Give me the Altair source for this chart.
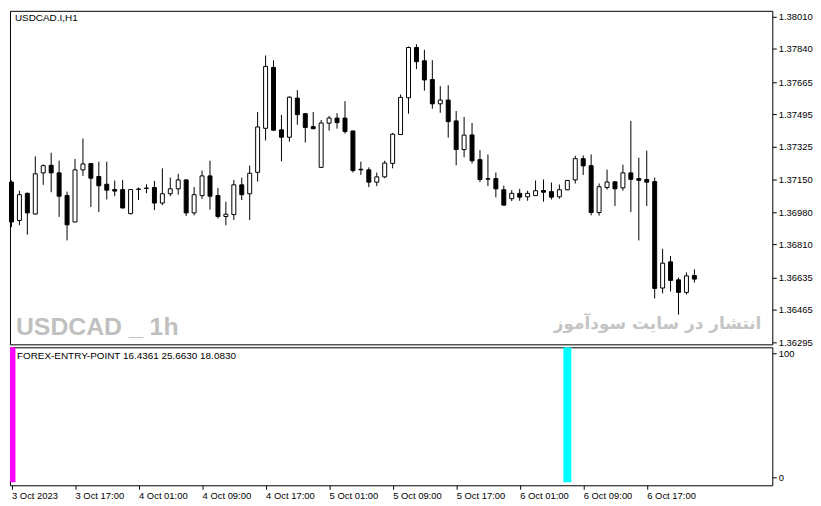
import altair as alt
import pandas as pd

# USDCAD.I H1 candles, 3 Oct 09:00 -> 6 Oct 23:00
opens = [1.37138, 1.36936, 1.37079, 1.36970, 1.37187, 1.37227, 1.37187, 1.37068, 1.36928, 1.37203,
         1.37236, 1.37168, 1.37127, 1.37099, 1.37099, 1.36972, 1.37100, 1.37107, 1.37110, 1.37028,
         1.37077, 1.37103, 1.37150, 1.36976, 1.37067, 1.37171, 1.37068, 1.36957, 1.36967, 1.37124,
         1.37077, 1.37190, 1.37422, 1.37743, 1.37414, 1.37375, 1.37581, 1.37499, 1.37431, 1.37216,
         1.37449, 1.37476, 1.37476, 1.37408, 1.37206, 1.37203, 1.37138, 1.37166, 1.37237, 1.37389,
         1.37583, 1.37848, 1.37778, 1.37679, 1.37551, 1.37571, 1.37461, 1.37310, 1.37387, 1.37257,
         1.37156, 1.37157, 1.37098, 1.37051, 1.37079, 1.37061, 1.37067, 1.37094, 1.37088, 1.37061,
         1.37098, 1.37150, 1.37262, 1.37225, 1.36978, 1.37110, 1.37140, 1.37108, 1.37187, 1.37157,
         1.37152, 1.37141, 1.36580, 1.36718, 1.36623, 1.36557, 1.36646]
highs = [1.37147, 1.37093, 1.37084, 1.37274, 1.37232, 1.37293, 1.37251, 1.37088, 1.37260, 1.37368,
         1.37238, 1.37246, 1.37246, 1.37147, 1.37150, 1.37102, 1.37110, 1.37127, 1.37145, 1.37211,
         1.37162, 1.37182, 1.37152, 1.37112, 1.37199, 1.37251, 1.37108, 1.37035, 1.37150, 1.37162,
         1.37225, 1.37508, 1.37806, 1.37780, 1.37492, 1.37591, 1.37623, 1.37500, 1.37508, 1.37466,
         1.37487, 1.37502, 1.37565, 1.37409, 1.37246, 1.37216, 1.37189, 1.37251, 1.37398, 1.37600,
         1.37853, 1.37865, 1.37836, 1.37781, 1.37644, 1.37649, 1.37513, 1.37482, 1.37450, 1.37307,
         1.37284, 1.37189, 1.37120, 1.37096, 1.37103, 1.37093, 1.37147, 1.37152, 1.37136, 1.37126,
         1.37149, 1.37277, 1.37279, 1.37284, 1.37131, 1.37204, 1.37141, 1.37230, 1.37461, 1.37267,
         1.37304, 1.37162, 1.36787, 1.36749, 1.36635, 1.36662, 1.36679]
lows = [1.36901, 1.36911, 1.36862, 1.36967, 1.37124, 1.37085, 1.36955, 1.36831, 1.36927, 1.37171,
        1.37007, 1.36981, 1.37047, 1.37064, 1.37000, 1.36969, 1.37044, 1.37080, 1.36991, 1.37017,
        1.37064, 1.37072, 1.36960, 1.36963, 1.37049, 1.36993, 1.36946, 1.36911, 1.36939, 1.37044,
        1.36939, 1.37141, 1.37358, 1.37411, 1.37248, 1.37352, 1.37441, 1.37347, 1.37417, 1.37214,
        1.37410, 1.37420, 1.37394, 1.37189, 1.37176, 1.37112, 1.37117, 1.37159, 1.37211, 1.37388,
        1.37499, 1.37734, 1.37621, 1.37525, 1.37504, 1.37373, 1.37227, 1.37269, 1.37237, 1.37138,
        1.37117, 1.37058, 1.37016, 1.37038, 1.37040, 1.37040, 1.37065, 1.37035, 1.37047, 1.37051,
        1.37096, 1.37131, 1.37176, 1.36963, 1.36962, 1.37099, 1.37012, 1.37093, 1.36981, 1.36831,
        1.37012, 1.36525, 1.36552, 1.36562, 1.36440, 1.36546, 1.36609]
closes = [1.36928, 1.37072, 1.36976, 1.37182, 1.37225, 1.37187, 1.37064, 1.36913, 1.37203, 1.37234,
          1.37159, 1.37119, 1.37096, 1.37091, 1.37002, 1.37099, 1.37102, 1.37105, 1.37028, 1.37077,
          1.37103, 1.37150, 1.36976, 1.37072, 1.37171, 1.37064, 1.36957, 1.36969, 1.37124, 1.37072,
          1.37185, 1.37429, 1.37748, 1.37412, 1.37375, 1.37586, 1.37494, 1.37426, 1.37420, 1.37450,
          1.37476, 1.37452, 1.37405, 1.37199, 1.37203, 1.37138, 1.37166, 1.37239, 1.37391, 1.37585,
          1.37848, 1.37773, 1.37677, 1.37551, 1.37571, 1.37457, 1.37310, 1.37386, 1.37251, 1.37152,
          1.37154, 1.37103, 1.37017, 1.37079, 1.37059, 1.37079, 1.37093, 1.37085, 1.37059, 1.37098,
          1.37147, 1.37262, 1.37224, 1.36978, 1.37114, 1.37139, 1.37103, 1.37187, 1.37153, 1.37148,
          1.37138, 1.36578, 1.36711, 1.36620, 1.36557, 1.36644, 1.36627]

time_labels = ["3 Oct 2023", "3 Oct 17:00", "4 Oct 01:00", "4 Oct 09:00", "4 Oct 17:00",
               "5 Oct 01:00", "5 Oct 09:00", "5 Oct 17:00", "6 Oct 01:00", "6 Oct 09:00",
               "6 Oct 17:00"]
price_ticks = [1.38010, 1.37840, 1.37665, 1.37495, 1.37325, 1.37150,
               1.36980, 1.36810, 1.36635, 1.36465, 1.36295]

# indicator histogram (FOREX-ENTRY-POINT)
signal_bars = [0, 70]
signal_names = ["sell", "buy"]
signal_top = [105, 105]
signal_bottom = [-4, -4]

candles = pd.DataFrame({
    "bar": range(len(opens)),
    "open": opens,
    "high": highs,
    "low": lows,
    "close": closes,
})
candles["dir"] = ["up" if c > o else "down" for o, c in zip(opens, closes)]

signals = pd.DataFrame({
    "bar": signal_bars,
    "name": signal_names,
    "top": signal_top,
    "bottom": signal_bottom,
})

FONT = "Liberation Sans"
x_scale = alt.Scale(domain=[-0.1875, 95.8125], nice=False, zero=False, padding=0)
price_scale = alt.Scale(domain=[1.362831, 1.380414], nice=False, zero=False, padding=0)
price_axis = alt.Axis(
    orient="right", values=price_ticks, format=".5f", title=None,
    tickSize=4, tickColor="black", labelPadding=2, labelOverlap=False,
)

base = alt.Chart(candles).encode(x=alt.X("bar:Q", scale=x_scale, axis=None))

wicks = base.mark_rule(color="black", strokeWidth=1).encode(
    y=alt.Y("low:Q", scale=price_scale, axis=price_axis),
    y2="high:Q",
)

bodies = base.mark_bar(size=4, stroke="black", strokeWidth=1).encode(
    y=alt.Y("open:Q", scale=price_scale, axis=price_axis),
    y2="close:Q",
    fill=alt.Fill(
        "dir:N",
        scale=alt.Scale(domain=["up", "down"], range=["white", "black"]),
        legend=None,
    ),
)

symbol_text = alt.Chart(pd.DataFrame({"t": ["USDCAD.I,H1"]})).mark_text(
    align="left", baseline="alphabetic", font=FONT, fontSize=10, color="black"
).encode(text="t:N", x=alt.value(5), y=alt.value(10))

watermark = alt.Chart(pd.DataFrame({"t": ["USDCAD _ 1h"]})).mark_text(
    align="left", baseline="alphabetic", font=FONT,
    fontWeight="bold", fontSize=25, color="#c0c0c0"
).encode(text="t:N", x=alt.value(6), y=alt.value(327))

site_text = alt.Chart(pd.DataFrame({"t": ["انتشار در سایت سودآموز"]})).mark_text(
    align="right", baseline="alphabetic", font="DejaVu Sans",
    fontWeight="bold", fontSize=17, color="#c4c4c4"
).encode(text="t:N", x=alt.value(757), y=alt.value(321))

main = alt.layer(wicks, bodies, symbol_text, watermark, site_text).properties(
    width=768, height=336
)

label_expr = "[" + ",".join(f"'{s}'" for s in time_labels) + "][datum.value / 8]"

hist = alt.Chart(signals).mark_bar(size=8, clip=True).encode(
    x=alt.X(
        "bar:Q",
        scale=x_scale,
        axis=alt.Axis(
            values=list(range(0, 81, 8)), labelExpr=label_expr, title=None,
            labelAlign="left", labelFlush=False, labelOverlap=False,
            tickSize=4, tickColor="black", labelPadding=1,
        ),
    ),
    y=alt.Y(
        "top:Q",
        scale=alt.Scale(domain=[-6.4, 104.8], nice=False, zero=False, padding=0),
        axis=alt.Axis(
            orient="right", values=[0, 100], title=None, labelOverlap=False,
            tickSize=4, tickColor="black", labelPadding=2,
        ),
    ),
    y2="bottom:Q",
    color=alt.Color(
        "name:N",
        scale=alt.Scale(domain=["sell", "buy"], range=["#ff00ff", "#00ffff"]),
        legend=None,
    ),
)

indicator_text = alt.Chart(
    pd.DataFrame({"t": ["FOREX-ENTRY-POINT 16.4361 25.6630 18.0830"]})
).mark_text(
    align="left", baseline="alphabetic", font=FONT, fontSize=10, color="black"
).encode(text="t:N", x=alt.value(7), y=alt.value(12))

lower = alt.layer(hist, indicator_text).properties(width=768, height=139)

chart = (
    alt.vconcat(main, lower, spacing=3, bounds="flush")
    .properties(padding=0, background="white")
    .configure_view(stroke="black", strokeWidth=1)
    .configure_axis(
        grid=False, domain=False, labelFont=FONT, labelFontSize=9.5,
        labelColor="black", labelOverlap=False,
    )
)

chart.save("out.html", embed_options={"renderer": "svg", "actions": False})
